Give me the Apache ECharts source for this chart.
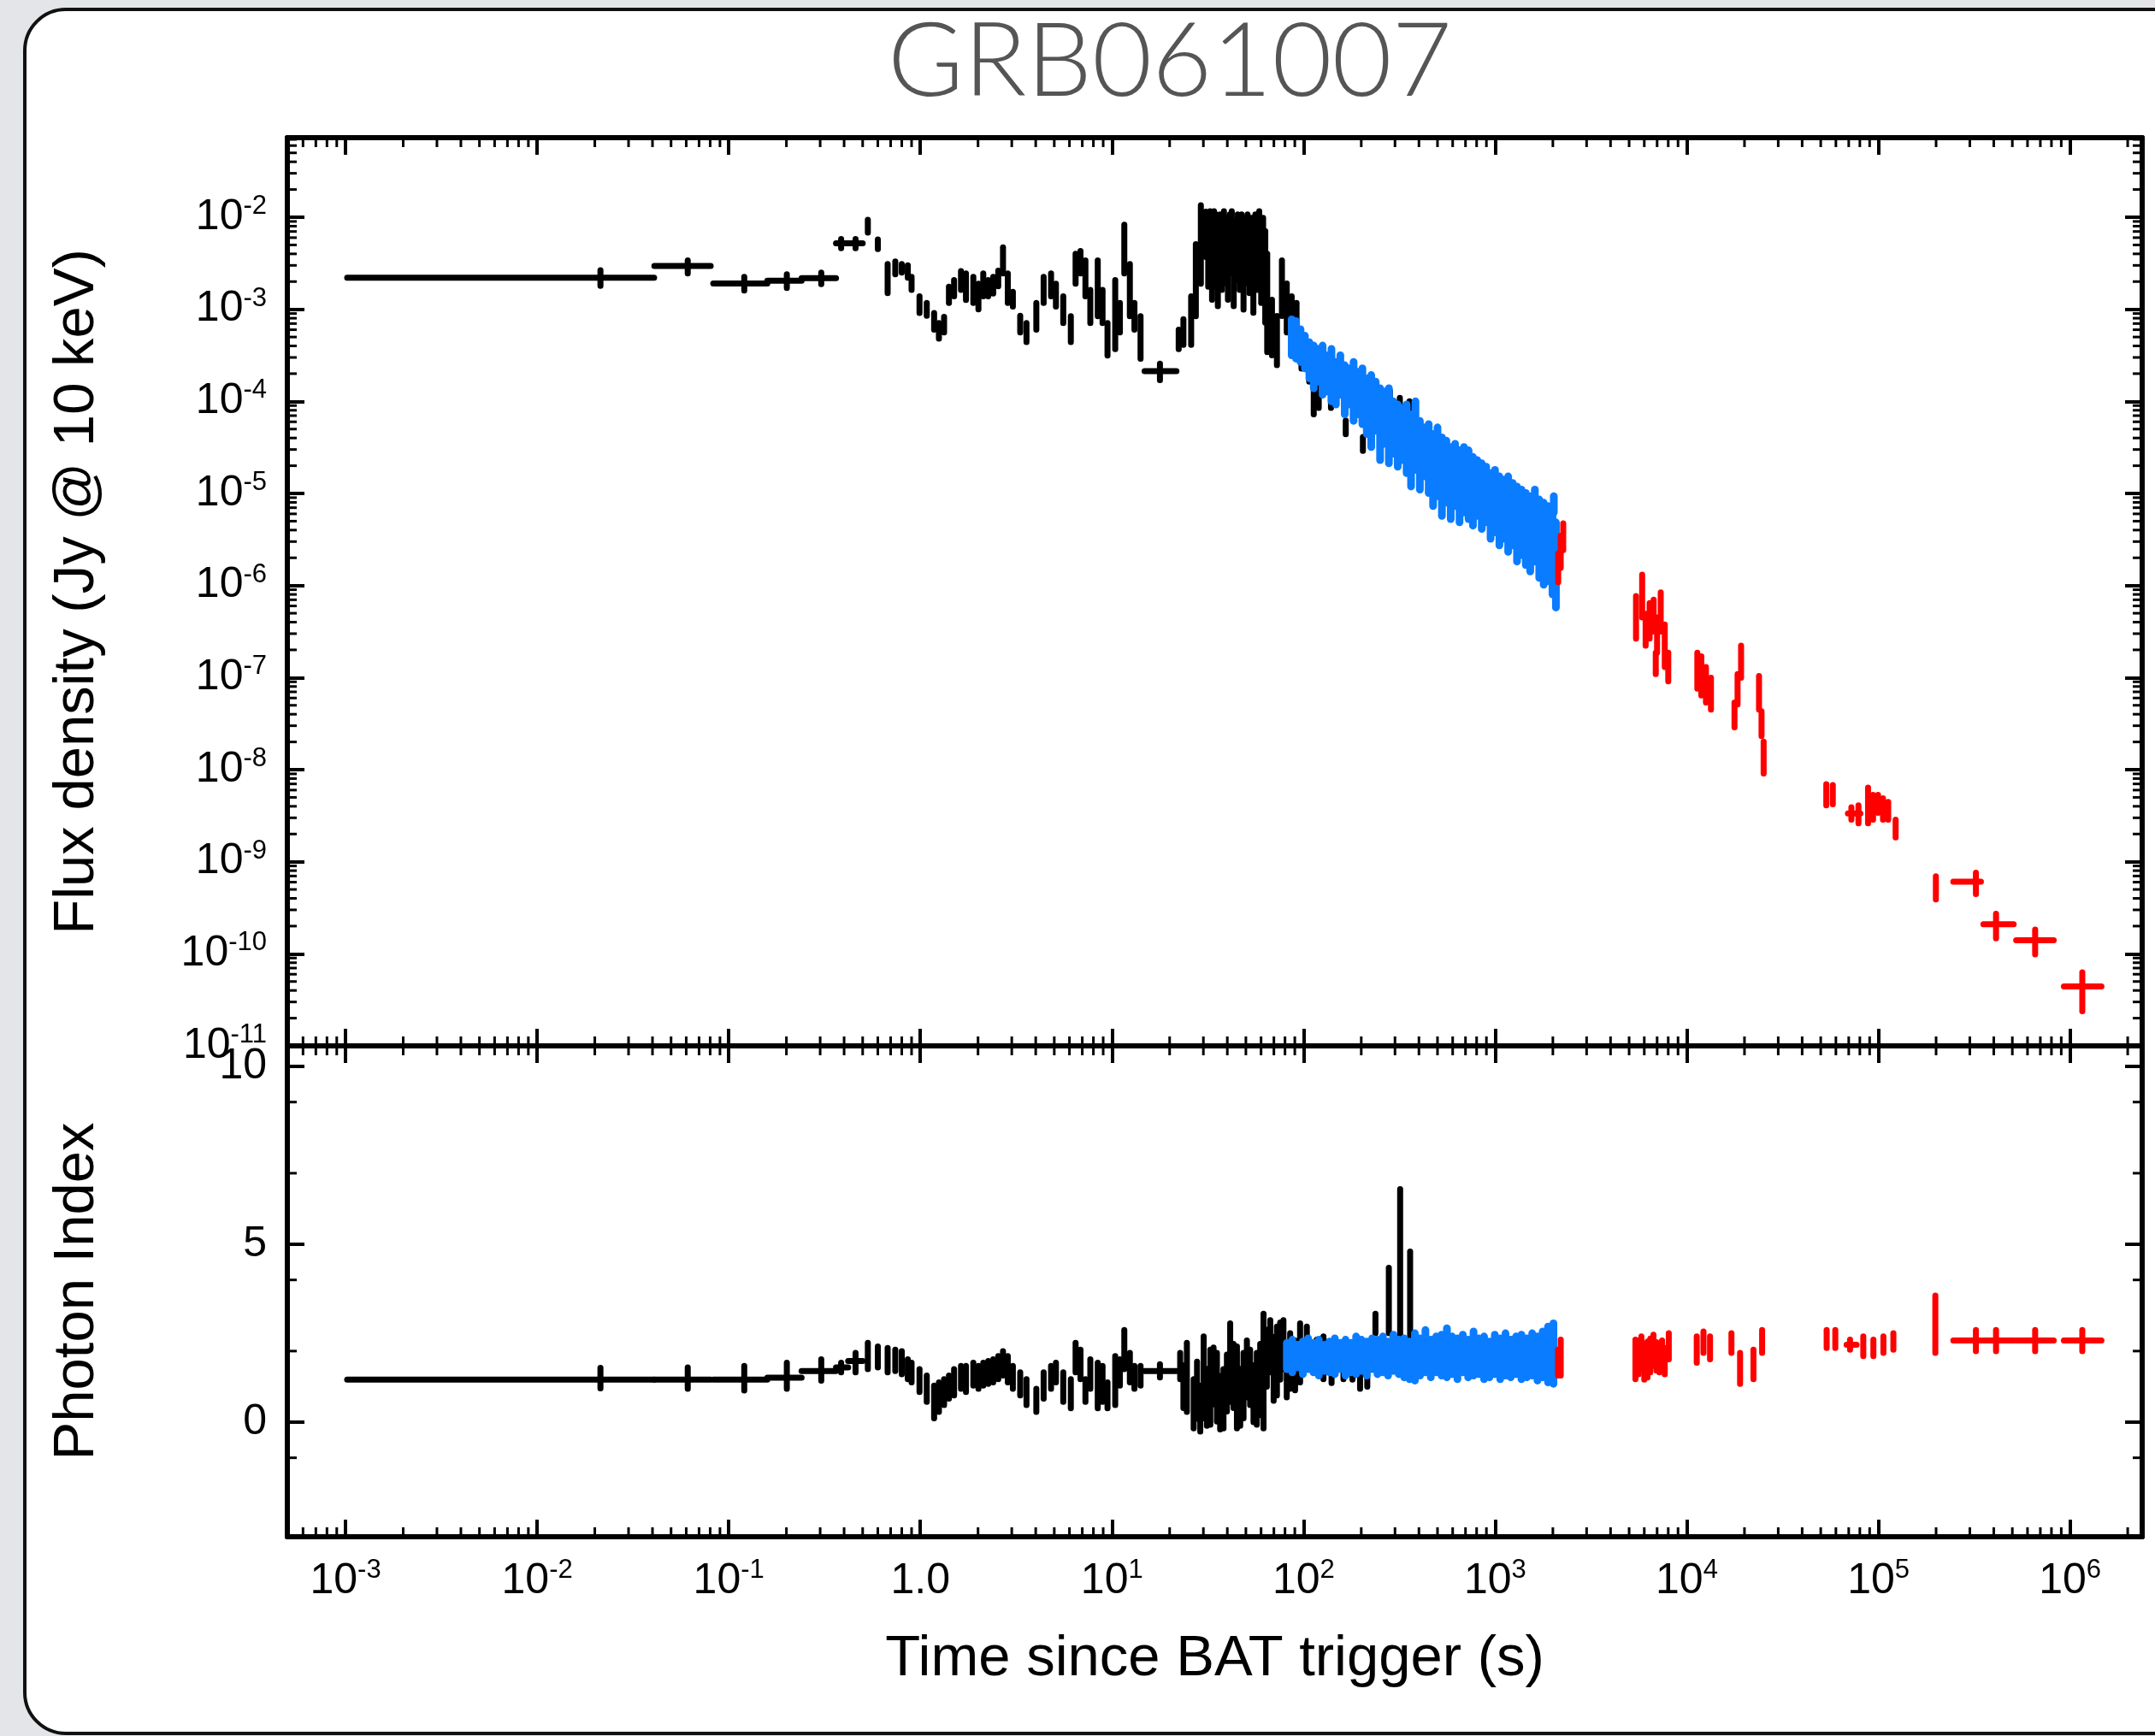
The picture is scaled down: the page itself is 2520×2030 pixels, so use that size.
<!DOCTYPE html>
<html><head><meta charset="utf-8">
<script src="https://cdn.jsdelivr.net/npm/echarts@6/dist/echarts.min.js"></script>
<style>html,body{margin:0;padding:0;background:#e4e5e8}#c{width:2520px;height:2030px}</style>
</head><body><div id="c"></div>
<script>
// ---------------- data ----------------
// flux rows: [time s, flux, fluxLow, fluxHigh, (timeLow, timeHigh)]
const batFlux = [
[0.0214,2.2e-3,1.8e-3,2.65e-3,0.00102,0.0408],[0.0611,2.95e-3,2.45e-3,3.4e-3,0.0409,0.0805],
[0.1205,1.91e-3,1.6e-3,2.25e-3,0.083,0.159],[0.201,2.04e-3,1.7e-3,2.4e-3,0.159,0.240],
[0.304,2.18e-3,1.88e-3,2.5e-3,0.240,0.363],[0.386,5.2e-3,4.6e-3,5.8e-3,0.363,0.42],
[0.459,5.2e-3,4.6e-3,5.8e-3,0.42,0.50],[0.532,8.1e-3,6.8e-3,9.4e-3],[0.60,5.1e-3,4.5e-3,5.75e-3],
[0.675,2.2e-3,1.5e-3,3.1e-3],[0.74,2.8e-3,2.4e-3,3.3e-3],[0.80,2.9e-3,2.5e-3,3.1e-3],
[0.86,2.6e-3,2.2e-3,3.0e-3],[0.90,1.9e-3,1.62e-3,2.25e-3],[0.99,1.15e-3,0.91e-3,1.38e-3],
[1.08,1.0e-3,0.85e-3,1.17e-3],[1.18,0.75e-3,0.6e-3,0.91e-3],[1.25,0.58e-3,0.48e-3,0.71e-3],
[1.33,0.68e-3,0.56e-3,0.83e-3],[1.41,1.4e-3,1.17e-3,1.76e-3],[1.50,1.7e-3,1.38e-3,2.08e-3],
[1.63,2.1e-3,1.62e-3,2.6e-3],[1.73,1.8e-3,1.26e-3,2.45e-3],[1.89,1.6e-3,1.17e-3,2.25e-3],
[2.01,1.4e-3,1.0e-3,1.9e-3],[2.13,1.85e-3,1.38e-3,2.45e-3],[2.26,1.7e-3,1.38e-3,2.08e-3],
[2.40,1.8e-3,1.48e-3,2.25e-3],[2.55,2.15e-3,1.78e-3,2.63e-3],[2.70,3.3e-3,2.45e-3,4.7e-3],
[2.86,1.75e-3,1.17e-3,2.45e-3],[3.04,1.3e-3,1.07e-3,1.55e-3],[3.32,0.7e-3,0.56e-3,0.85e-3],
[3.58,5.6e-4,4.4e-4,7.1e-4],[4.03,8.5e-4,6.0e-4,1.17e-3],[4.40,1.6e-3,1.17e-3,2.25e-3],
[4.81,1.85e-3,1.38e-3,2.45e-3],[5.10,1.45e-3,1.07e-3,1.9e-3],[5.57,1.0e-3,7.1e-4,1.38e-3],
[6.10,6.2e-4,4.4e-4,8.4e-4],[6.46,2.6e-3,1.9e-3,4.0e-3],[6.85,3.1e-3,2.45e-3,4.3e-3],
[7.27,2.1e-3,1.38e-3,3.4e-3],[7.71,1.1e-3,7.1e-4,1.62e-3],[8.43,1.7e-3,8.4e-4,3.4e-3],
[8.93,1.1e-3,7.1e-4,1.62e-3],[9.48,5.0e-4,3.15e-4,7.1e-4],[10.4,9.0e-4,3.7e-4,2.08e-3],
[11.0,8.5e-4,5.6e-4,1.17e-3],[11.6,4.5e-3,2.45e-3,8.3e-3],[12.4,1.7e-3,8.4e-4,3.1e-3],
[13.1,8.0e-4,6.0e-4,1.17e-3],[14.1,5.5e-4,2.9e-4,8.4e-4],[17.8,2.13e-4,1.7e-4,2.57e-4,14.8,21.7],
[22.3,4.7e-4,3.7e-4,6.0e-4],[23.6,5.8e-4,4.1e-4,7.8e-4],[25.9,8.0e-4,4.1e-4,1.38e-3],
[27.4,2.2e-3,8.4e-4,5.1e-3],[29.1,4.5e-3,1.9e-3,1.35e-2],[30.9,6.0e-3,3.7e-3,1.15e-2],
[31.8,4.34e-3,1.76e-3,1.07e-2],[32.5,5.10e-3,2.25e-3,1.16e-2],[33.3,3.68e-3,1.27e-3,1.07e-2],
[34.1,6.01e-3,3.13e-3,1.16e-2],[34.9,4.34e-3,1.76e-3,1.07e-2],[35.7,2.88e-3,1.08e-3,7.69e-3],
[36.6,5.10e-3,2.44e-3,1.07e-2],[37.5,3.68e-3,1.62e-3,8.34e-3],[38.4,6.01e-3,3.13e-3,1.16e-2],
[39.3,4.34e-3,1.91e-3,9.84e-3],[40.3,3.13e-3,1.27e-3,7.69e-3],[41.2,5.10e-3,2.44e-3,1.07e-2],
[42.2,6.53e-3,3.68e-3,1.16e-2],[43.2,2.44e-3,1.08e-3,5.54e-3],[44.3,4.34e-3,2.07e-3,9.06e-3],
[45.3,5.54e-3,2.88e-3,1.07e-2],[46.4,3.68e-3,1.62e-3,8.34e-3],[47.5,5.10e-3,2.44e-3,1.07e-2],
[48.6,2.65e-3,9.93e-4,7.08e-3],[49.8,4.34e-3,1.91e-3,9.84e-3],[51.0,5.54e-3,2.88e-3,1.07e-2],
[52.2,3.39e-3,1.50e-3,7.69e-3],[53.5,4.71e-3,2.25e-3,9.84e-3],[54.7,2.44e-3,9.16e-4,6.53e-3],
[56.0,5.10e-3,2.44e-3,1.07e-2],[57.4,3.68e-3,1.62e-3,8.34e-3],[58.7,6.01e-3,3.13e-3,1.16e-2],
[60.1,2.88e-3,1.17e-3,7.08e-3],[61.5,4.34e-3,1.91e-3,9.84e-3],[63.1,2.25e-3,7.16e-4,7.08e-3],
[64.6,1.17e-3,3.43e-4,4.0e-3],[68.4,6.3e-4,3.16e-4,1.27e-3],[72.6,4.57e-4,2.47e-4,8.44e-4],
[77.1,1.69e-3,8.44e-4,3.39e-3],[81.7,1.03e-3,5.6e-4,1.91e-3],[86.7,9.16e-4,6.08e-4,1.38e-3],
[91.9,8.44e-4,6.08e-4,1.17e-3],[97.5,3.43e-4,2.27e-4,5.16e-4],[107,2.47e-4,1.64e-4,3.72e-4],
[113,1.18e-4,7.23e-5,1.93e-4],[120,1.18e-4,8.5e-5,1.64e-4],[139,1.0e-4,8.5e-5,1.18e-4],
[166,5.2e-5,4.4e-5,6.2e-5],[204,3.4e-5,2.9e-5,4.1e-5],[282,1.09e-4,9.2e-5,1.3e-4],
[318,9.2e-5,7.8e-5,1.09e-4],[357,8.5e-5,7.2e-5,1.0e-4]
];
const wtFlux = [
[86.7,4.96e-4,3.16e-4,7.77e-4],[91.4,4.7e-4,2.91e-4,7.46e-4],[96.4,4.04e-4,2.68e-4,6.08e-4],
[101.6,3.43e-4,2.28e-4,5.16e-4],[107.2,2.8e-4,1.78e-4,4.38e-4],[113.0,2.37e-4,1.39e-4,4.04e-4],
[119.2,2.47e-4,1.64e-4,3.72e-4],[125.7,2.19e-4,1.18e-4,4.04e-4],[132.6,2.01e-4,1.28e-4,3.16e-4],
[139.8,1.93e-4,1.0e-4,3.72e-4],[147.5,1.58e-4,9.24e-5,2.68e-4],[155.5,1.93e-4,1.18e-4,3.16e-4],
[164.0,1.33e-4,7.23e-5,2.47e-4],[172.9,1.45e-4,9.24e-5,2.28e-4],[182.4,1.28e-4,6.14e-5,2.68e-4],
[192.3,1.23e-4,7.23e-5,2.10e-4],[202.8,1.13e-4,5.65e-5,2.28e-4],[213.8,8.87e-5,4.42e-5,1.78e-4],
[225.5,7.85e-5,3.19e-5,1.93e-4],[237.8,8.87e-5,4.80e-5,1.64e-4],[250.8,5.65e-5,2.30e-5,1.39e-4],
[264.4,6.66e-5,3.46e-5,1.28e-4],[278.8,5.43e-5,2.12e-5,1.39e-4],[294.0,5.21e-5,2.71e-5,1.0e-4],
[310.0,4.24e-5,1.95e-5,9.24e-5],[327.1,4.42e-5,2.30e-5,8.51e-5],[345.1,3.91e-5,1.66e-5,9.24e-5],
[363.9,2.94e-5,1.19e-5,7.23e-5],[383.7,4.24e-5,1.80e-5,1.0e-4],[404.6,2.60e-5,1.10e-5,6.14e-5],
[426.6,2.82e-5,1.53e-5,5.21e-5],[449.8,2.39e-5,1.01e-5,5.65e-5],[474.3,1.80e-5,7.30e-6,4.42e-5],
[500.0,2.21e-5,9.33e-6,5.21e-5],[527.2,1.53e-5,5.71e-6,4.07e-5],[555.9,1.73e-5,7.93e-6,3.75e-5],
[586.1,1.30e-5,5.26e-6,3.19e-5],[618.0,1.59e-5,7.30e-6,3.46e-5],[651.6,1.19e-5,4.85e-6,2.94e-5],
[687.1,1.41e-5,6.20e-6,3.19e-5],[726.1,1.25e-5,5.26e-6,2.94e-5],[765.6,1.05e-5,4.47e-6,2.49e-5],
[807.2,1.15e-5,5.71e-6,2.30e-5],[851.1,9.33e-6,4.12e-6,2.12e-5],[897.5,9.7e-6,4.85e-6,1.95e-5],
[946.2,7.30e-6,3.22e-6,1.66e-5],[997.7,8.26e-6,3.79e-6,1.80e-5],[1052,6.46e-6,2.73e-6,1.53e-5],
[1109,6.73e-6,3.22e-6,1.41e-5],[1169,5.95e-6,2.32e-6,1.53e-5],[1233,5.95e-6,2.73e-6,1.30e-5],
[1300,4.66e-6,1.82e-6,1.19e-5],[1371,4.85e-6,2.14e-6,1.10e-5],[1445,4.12e-6,1.67e-6,1.01e-5],
[1524,3.64e-6,1.42e-6,9.33e-6],[1611,4.47e-6,1.82e-6,1.10e-5],[1698,3.22e-6,1.21e-6,8.60e-6],
[1791,2.85e-6,1.02e-6,7.93e-6],[1888,2.85e-6,1.11e-6,7.30e-6],[1991,2.23e-6,8.0e-7,6.20e-6],
[2023,7.6e-6,6.2e-6,9.33e-6],[2075,1.67e-6,5.77e-7,4.85e-6]
];
const pcFlux = [
[2133,1.55e-6,1.09e-6,2.23e-6],[2198,2.34e-6,1.56e-6,3.47e-6],[2265,3.39e-6,2.43e-6,4.73e-6],
[5433,4.51e-7,2.65e-7,7.67e-7],[5848,7.67e-7,4.51e-7,1.31e-6],[6097,3.31e-7,2.22e-7,4.93e-7],
[6397,4.12e-7,2.65e-7,6.43e-7],[6714,4.7e-7,3.16e-7,7.03e-7],[6887,1.42e-7,1.09e-7,1.86e-7],
[6998,2.9e-7,1.86e-7,4.51e-7],[7311,5.1e-7,3.16e-7,8.4e-7],[7674,2.22e-7,1.3e-7,3.78e-7],
[8004,1.29e-7,9.1e-8,1.86e-7],[11350,1.2e-7,7.6e-8,1.86e-7],[11910,1.05e-7,6.4e-8,1.7e-7],
[12590,8.3e-8,5.36e-8,1.3e-7],[13370,6.7e-8,4.49e-8,9.98e-8],[17740,3.9e-8,2.88e-8,5.36e-8],
[18410,7.4e-8,5.1e-8,1.09e-7],[19200,1.48e-7,9.98e-8,2.22e-7],[23820,6.84e-8,4.49e-8,1.04e-7],
[24550,3.16e-8,2.31e-8,4.3e-8],[25180,1.35e-8,9.08e-9,2.02e-8],[53460,5.37e-9,4.09e-9,6.97e-9],
[57810,5.3e-9,4.2e-9,6.8e-9],[72280,3.35e-9,2.86e-9,3.9e-9,69340,80540],[78700,3.27e-9,2.62e-9,4.09e-9],
[88310,4.07e-9,2.62e-9,6.37e-9],[93760,3.9e-9,2.86e-9,5.33e-9],[99540,4.27e-9,3.4e-9,5.33e-9],
[105700,3.72e-9,2.86e-9,4.89e-9],[112500,3.55e-9,2.86e-9,4.47e-9],[123000,2.29e-9,1.84e-9,2.86e-9],
[199500,5.25e-10,3.89e-10,6.93e-10],[322800,6.07e-10,4.45e-10,7.59e-10,246000,342800],
[411100,2.09e-10,1.47e-10,2.73e-10,353200,508200],[657700,1.40e-10,9.84e-11,1.83e-10,523600,822200],
[1159000,4.43e-11,2.38e-11,6.3e-11,929000,1459000]
];
// photon index rows: [time s, index, indexLow, indexHigh, (timeLow, timeHigh)]
const batIndex = [
[0.0214,1.2,0.95,1.53,0.00102,0.0408],[0.0611,1.2,0.94,1.54,0.0409,0.0805],[0.1205,1.2,0.89,1.58,0.083,0.159],
[0.201,1.25,0.94,1.67,0.159,0.240],[0.304,1.44,1.17,1.77,0.240,0.363],[0.386,1.54,1.4,1.67,0.363,0.42],
[0.459,1.72,1.40,1.95,0.42,0.50],[0.532,1.86,1.49,2.23],[0.60,1.81,1.54,2.13],[0.675,1.77,1.40,2.09],
[0.74,1.75,1.44,2.04],[0.80,1.67,1.35,2.0],[0.86,1.49,1.21,1.77],[0.90,1.40,1.12,1.67],[0.99,1.17,0.85,1.49],
[1.08,0.94,0.57,1.31],[1.18,0.57,0.11,1.03],[1.25,0.71,0.29,1.12],[1.33,0.85,0.48,1.21],[1.41,0.98,0.66,1.31],
[1.50,1.12,0.75,1.49],[1.63,1.26,0.94,1.58],[1.73,1.21,0.85,1.58],[1.89,1.35,1.03,1.67],[2.01,1.26,0.94,1.58],
[2.13,1.35,1.03,1.67],[2.26,1.40,1.08,1.72],[2.40,1.44,1.12,1.77],[2.55,1.54,1.21,1.86],[2.70,1.66,1.31,2.0],
[2.86,1.49,1.12,1.86],[3.04,1.26,0.94,1.58],[3.32,1.08,0.75,1.40],[3.58,0.85,0.48,1.21],[4.03,0.62,0.29,0.94],
[4.40,1.03,0.66,1.40],[4.81,1.26,0.94,1.58],[5.10,1.40,1.12,1.67],[5.57,0.98,0.57,1.40],[6.10,0.80,0.39,1.21],
[6.46,1.81,1.40,2.23],[6.85,1.63,1.21,2.04],[7.27,0.89,0.57,1.21],[7.71,1.35,0.94,1.77],[8.43,1.03,0.39,1.67],
[8.93,1.08,0.57,1.58],[9.48,0.75,0.39,1.12],[10.4,1.17,0.48,1.86],[11.0,1.40,1.03,1.77],[11.6,2.04,1.49,2.59],
[12.4,1.54,1.12,1.95],[13.1,1.26,0.94,1.58],[14.1,1.31,1.03,1.58],[17.8,1.44,1.26,1.63,14.8,21.7],
[22.7,1.58,1.21,1.95],[23.6,1.0,0.4,1.6],[24.6,1.26,0.29,2.23],[26.7,0.52,-0.17,1.21],[27.8,0.9,0.1,1.7],
[28.9,0.39,-0.26,1.03],[30.1,1.26,0.11,2.41],[31.3,0.7,-0.1,1.5],[32.6,0.98,-0.07,2.04],[33.9,1.3,0.5,2.1],
[35.3,0.98,0.02,1.95],[36.7,0.6,-0.2,1.3],[38.2,0.66,-0.17,1.49],[39.8,1.1,0.3,1.9],[41.4,1.67,0.57,2.78],
[43.1,1.3,0.4,2.2],[44.9,0.98,-0.17,2.13],[46.7,0.7,-0.1,1.5],[48.6,1.03,0.11,1.95],[50.6,1.5,0.7,2.3],
[52.6,1.26,0.48,2.04],[54.8,0.8,0.0,1.6],[57.0,0.94,-0.07,1.95],[59.4,1.2,0.2,2.2],[61.8,1.44,-0.17,3.05],
[64.3,1.8,1.0,2.6],[67.0,2.13,1.40,2.87],[69.8,1.5,0.6,2.4],[72.6,1.72,0.75,2.69],[75.5,2.0,1.2,2.8],
[78.5,2.18,1.49,2.87],[81.7,1.4,0.7,2.1],[85.1,1.72,0.94,2.50],[90.3,1.6,0.9,2.3],[95.9,1.95,1.12,2.78],
[104.0,2.09,1.49,2.69],[117.2,1.95,1.58,2.32],[127.0,1.81,1.21,2.41],[140,1.5,1.1,1.9],[161.5,1.67,1.21,2.13],
[180,1.6,1.2,2.0],[197.2,1.21,0.94,1.49],[215,1.4,1.0,1.8],[237.2,2.78,2.50,3.05],[278.6,3.42,2.50,4.34],
[319.2,4.48,2.41,6.55],[359.8,3.56,2.32,4.80]
];
const wtIndex = [
[81.8,1.86,1.49,2.23],[87.3,1.86,1.40,2.32],[93.0,1.86,1.54,2.18],[99.1,1.81,1.35,2.27],[105.6,1.93,1.49,2.36],
[112.6,1.81,1.40,2.23],[120.1,1.81,1.31,2.32],[128.1,1.81,1.44,2.18],[136.5,1.84,1.40,2.27],[145.6,1.86,1.35,2.36],
[155.3,1.86,1.49,2.23],[165.6,1.81,1.31,2.32],[176.6,1.81,1.40,2.23],[188.0,1.88,1.35,2.41],[200.5,1.88,1.44,2.32],
[213.8,1.79,1.31,2.27],[228.0,1.93,1.49,2.36],[243.2,1.84,1.35,2.32],[259.4,1.90,1.40,2.41],[276.1,1.79,1.31,2.27],
[294.4,1.95,1.44,2.46],[314.1,1.84,1.35,2.32],[335.0,1.81,1.26,2.36],[357.3,1.74,1.21,2.27],[381.1,1.84,1.17,2.50],
[405.5,1.84,1.31,2.36],[432.5,2.0,1.40,2.59],[461.3,1.79,1.26,2.32],[492.0,1.90,1.40,2.41],[524.8,1.88,1.31,2.46],
[559.8,1.95,1.26,2.64],[595.7,1.88,1.35,2.41],[635.3,1.79,1.21,2.36],[677.6,1.93,1.40,2.46],[722.8,1.79,1.26,2.32],
[770.9,1.93,1.31,2.55],[820.4,1.86,1.35,2.36],[875.0,1.81,1.21,2.41],[933.3,1.77,1.26,2.27],[995.4,1.90,1.35,2.46],
[1062,1.79,1.21,2.36],[1132,1.90,1.31,2.50],[1205,1.79,1.26,2.32],[1285,1.88,1.35,2.41],[1371,1.84,1.21,2.46],
[1462,1.81,1.26,2.36],[1560,1.90,1.31,2.50],[1663,1.79,1.17,2.41],[1770,1.90,1.26,2.55],[1888,1.90,1.12,2.69],
[2014,1.93,1.08,2.78]
];
const pcIndex = [
[2128,1.67,1.31,2.04],[2198,1.81,1.31,2.32],[5395,1.77,1.21,2.32],[5600,1.9,1.35,2.3],[5794,1.95,1.49,2.41],
[6000,1.7,1.2,2.2],[6237,1.77,1.26,2.27],[6450,1.9,1.4,2.35],[6699,2.02,1.58,2.46],[6950,1.85,1.45,2.25],
[7194,1.78,1.40,2.18],[7430,1.95,1.5,2.3],[7674,1.72,1.35,2.09],[8054,2.13,1.77,2.50],[11270,2.04,1.67,2.41],
[12220,2.25,1.95,2.55],[13220,2.09,1.77,2.41],[17100,2.23,1.95,2.50],[18970,1.51,1.08,1.95],[22280,1.63,1.21,2.04],
[24720,2.27,1.95,2.59],[53700,2.34,2.09,2.59],[59570,2.34,2.09,2.59],[71120,2.18,2.04,2.32,68230,76910],
[83400,2.13,1.86,2.41],[94150,2.09,1.86,2.32],[106200,2.18,1.95,2.41],[119700,2.27,2.04,2.50],
[198200,2.76,1.95,3.56],[322800,2.3,2.0,2.59,246000,342800],[411100,2.3,2.0,2.59,353200,508200],
[657700,2.3,2.0,2.59,523600,822200],[1159000,2.3,2.0,2.59,929000,1459000]
];
// axis ranges and tick labels
const timeRange = [4.97e-4, 2.38e6];
const fluxRange = [1e-11, 0.0731];
const indexRange = [-3.22, 10.58];
const indexMinorTicks = [9, 7, 4, 2, -1];
const titleText = 'GRB061007';
const xTitle = 'Time since BAT trigger (s)';
const fluxTitle = 'Flux density (Jy @ 10 keV)';
const indexTitle = 'Photon Index';

// ---------------- chart ----------------
const FONT = "'Liberation Sans', Arial, Helvetica, sans-serif";
const BLACK = '#000', BLUE = '#0a7cff', RED = '#ff0000';
const G = {left: 336, width: 2169, top1: 161, h1: 1062, top2: 1223, h2: 574};

const axisLine = {show: true, onZero: false, lineStyle: {color: '#000', width: 6}};
const majorTick = {show: true, inside: true, length: 20, lineStyle: {color: '#000', width: 4}};
const rich = {
  b: {fontSize: 50, fontFamily: FONT, color: '#000', lineHeight: 56},
  s: {fontSize: 31, fontFamily: FONT, color: '#000', lineHeight: 31, verticalAlign: 'top'}
};
function expLabel(v) {
  const e = Math.round(Math.log10(v));
  return '{b|10}{s|' + e + '}';
}
function xAxis(gridIndex, position, labels) {
  const ax = {type: 'log', logBase: 10, gridIndex, position, min: timeRange[0], max: timeRange[1],
    splitNumber: 10, axisLine, axisTick: majorTick, splitLine: {show: false},
    axisLabel: {show: false}};
  if (labels) {
    ax.axisLabel = {show: true, margin: 24, showMinLabel: false, showMaxLabel: false, rich,
      formatter: v => { const e = Math.round(Math.log10(v)); return e === 0 ? '{b|1.0}' : expLabel(v); }};
    ax.name = xTitle; ax.nameLocation = 'middle'; ax.nameGap = 110;
    ax.nameTextStyle = {fontSize: 67, fontFamily: FONT, color: '#000'};
  }
  return ax;
}
function yFlux(position, labels) {
  const ax = {type: 'log', logBase: 10, gridIndex: 0, position, min: fluxRange[0], max: fluxRange[1],
    splitNumber: 10, axisLine, axisTick: majorTick, splitLine: {show: false}, axisLabel: {show: false}};
  if (labels) {
    ax.axisLabel = {show: true, margin: 24, showMinLabel: true, showMaxLabel: false, rich, formatter: expLabel};
    ax.name = fluxTitle; ax.nameLocation = 'middle'; ax.nameGap = 212; ax.nameRotate = 90;
    ax.nameTextStyle = {fontSize: 67, fontFamily: FONT, color: '#000'};
  }
  return ax;
}
function yIndex(position, labels) {
  const ax = {type: 'value', gridIndex: 1, position, min: indexRange[0], max: indexRange[1],
    splitNumber: 3, axisLine, axisTick: majorTick, splitLine: {show: false}, axisLabel: {show: false}};
  if (labels) {
    ax.axisLabel = {show: true, margin: 24, showMinLabel: false, showMaxLabel: false,
      fontSize: 50, fontFamily: FONT, color: '#000', formatter: v => String(v)};
    ax.name = indexTitle; ax.nameLocation = 'middle'; ax.nameGap = 212; ax.nameRotate = 90;
    ax.nameTextStyle = {fontSize: 67, fontFamily: FONT, color: '#000'};
  }
  return ax;
}

// minor tick decoration positions (axis decoration, derived from the axis ranges)
const xMinor = [];
for (let e = -4; e <= 6; e++) for (let k = 2; k <= 9; k++) {
  const v = k * Math.pow(10, e); if (v > timeRange[0] && v < timeRange[1]) xMinor.push(v);
}
const fluxMinor = [];
for (let e = -11; e <= -2; e++) for (let k = 2; k <= 9; k++) {
  const v = k * Math.pow(10, e); if (v > fluxRange[0] && v < fluxRange[1]) fluxMinor.push(v);
}
const MINOR = 11;
function minorXSeries(xi, yi, yAny) {
  return {type: 'custom', xAxisIndex: xi, yAxisIndex: yi, silent: true, z: 6, clip: false,
    data: xMinor.map(v => [v, yAny]),
    renderItem(params, api) {
      const cs = params.coordSys; const x = api.coord([api.value(0), api.value(1)])[0];
      const st = {stroke: '#000', lineWidth: 3};
      return {type: 'group', children: [
        {type: 'line', shape: {x1: x, y1: cs.y, x2: x, y2: cs.y + MINOR}, style: st},
        {type: 'line', shape: {x1: x, y1: cs.y + cs.height, x2: x, y2: cs.y + cs.height - MINOR}, style: st}]};
    }};
}
function minorYSeries(xi, yi, xAny, vals) {
  return {type: 'custom', xAxisIndex: xi, yAxisIndex: yi, silent: true, z: 6, clip: false,
    data: vals.map(v => [xAny, v]),
    renderItem(params, api) {
      const cs = params.coordSys; const y = api.coord([api.value(0), api.value(1)])[1];
      const st = {stroke: '#000', lineWidth: 3};
      return {type: 'group', children: [
        {type: 'line', shape: {x1: cs.x, y1: y, x2: cs.x + MINOR, y2: y}, style: st},
        {type: 'line', shape: {x1: cs.x + cs.width, y1: y, x2: cs.x + cs.width - MINOR, y2: y}, style: st}]};
    }};
}
function errSeries(data, xi, yi, color, w, z) {
  return {type: 'custom', xAxisIndex: xi, yAxisIndex: yi, z, clip: true, silent: true,
    dimensions: ['t', 'v', 'lo', 'hi', 'tlo', 'thi'], encode: {x: 0, y: 1},
    data,
    renderItem(params, api) {
      const t = api.value(0), v = api.value(1), lo = api.value(2), hi = api.value(3);
      const tlo = api.value(4), thi = api.value(5);
      const a = api.coord([t, lo]), b = api.coord([t, hi]);
      const st = {stroke: color, lineWidth: w, lineCap: 'round'};
      const ch = [{type: 'line', shape: {x1: a[0], y1: a[1], x2: b[0], y2: b[1]}, style: st}];
      if (isFinite(tlo) && isFinite(thi) && tlo > 0) {
        const c = api.coord([tlo, v]), d = api.coord([thi, v]);
        ch.push({type: 'line', shape: {x1: c[0], y1: c[1], x2: d[0], y2: d[1]}, style: st});
      }
      return {type: 'group', children: ch};
    }};
}

const chart = echarts.init(document.getElementById('c'), null, {renderer: 'canvas'});
chart.setOption({
  animation: false,
  backgroundColor: '#e4e5e8',
  graphic: [
    {type: 'rect', z: -100, shape: {x: 29, y: 11, width: 2600, height: 2016, r: 48},
      style: {fill: '#ffffff', stroke: '#111', lineWidth: 4}},
    {type: 'text', z: 10, x: 1368, y: 12,
      style: {text: titleText, fill: '#555555', font: "300 121px Lato, 'Open Sans', sans-serif",
        textAlign: 'center', textVerticalAlign: 'top', align: 'center', verticalAlign: 'top'}}
  ],
  grid: [
    {left: G.left, width: G.width, top: G.top1, height: G.h1, containLabel: false},
    {left: G.left, width: G.width, top: G.top2, height: G.h2, containLabel: false}
  ],
  xAxis: [xAxis(0, 'bottom', false), xAxis(0, 'top', false), xAxis(1, 'bottom', true), xAxis(1, 'top', false)],
  yAxis: [yFlux('left', true), yFlux('right', false), yIndex('left', true), yIndex('right', false)],
  series: [
    minorXSeries(0, 0, fluxRange[0]),
    minorYSeries(0, 0, timeRange[0], fluxMinor),
    minorXSeries(2, 2, 1),
    minorYSeries(2, 2, timeRange[0], indexMinorTicks),
    errSeries(batFlux, 0, 0, BLACK, 7, 3),
    errSeries(wtFlux, 0, 0, BLUE, 9, 4),
    errSeries(pcFlux, 0, 0, RED, 7, 5),
    errSeries(batIndex, 2, 2, BLACK, 7, 3),
    errSeries(wtIndex, 2, 2, BLUE, 9, 4),
    errSeries(pcIndex, 2, 2, RED, 7, 5)
  ]
});
</script></body></html>
